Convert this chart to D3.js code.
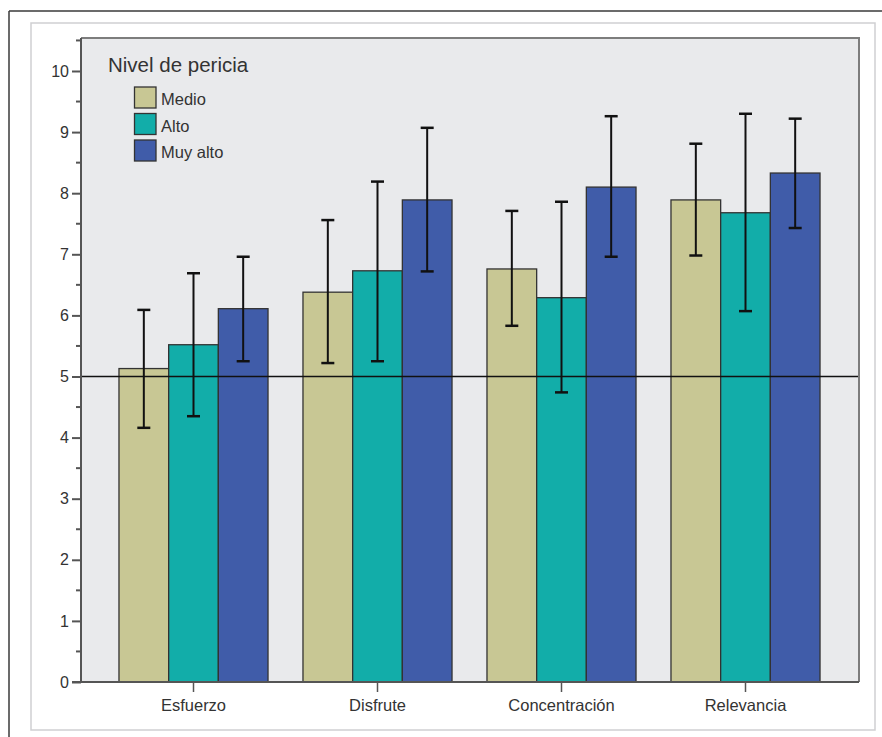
<!DOCTYPE html>
<html>
<head>
<meta charset="utf-8">
<script src="https://cdn.jsdelivr.net/npm/d3@7"></script>
<style>
  html, body { margin: 0; padding: 0; background: #fff; }
  svg { display: block; }
  text { font-family: "Liberation Sans", Arial, sans-serif; }
</style>
</head>
<body>
<svg id="chart" width="882" height="737"></svg>
<script>
// ---- data ----
const categories = ["Esfuerzo", "Disfrute", "Concentración", "Relevancia"];
const seriesNames = ["Medio", "Alto", "Muy alto"];
const medioMean = [5.13, 6.38, 6.76, 7.89];
const medioLow  = [4.16, 5.22, 5.83, 6.98];
const medioHigh = [6.09, 7.56, 7.71, 8.81];
const altoMean  = [5.52, 6.73, 6.29, 7.68];
const altoLow   = [4.35, 5.25, 4.74, 6.07];
const altoHigh  = [6.69, 8.19, 7.86, 9.30];
const muyMean   = [6.11, 7.89, 8.10, 8.33];
const muyLow    = [5.25, 6.72, 6.96, 7.43];
const muyHigh   = [6.96, 9.07, 9.26, 9.22];
const yTicks = [0, 1, 2, 3, 4, 5, 6, 7, 8, 9, 10];
const refValue = 5;
const legendTitle = "Nivel de pericia";

const colors = ["#c8c794", "#12ada9", "#405ca9"];

const means = [medioMean, altoMean, muyMean];
const lows = [medioLow, altoLow, muyLow];
const highs = [medioHigh, altoHigh, muyHigh];

const rows = [];
categories.forEach((c, ci) => {
  seriesNames.forEach((s, si) => {
    rows.push({cat: c, ser: s, si, mean: means[si][ci], low: lows[si][ci], high: highs[si][ci]});
  });
});

const svg = d3.select("#chart");

// outer frames
svg.append("line").attr("x1", 9).attr("x2", 882).attr("y1", 11).attr("y2", 11)
  .attr("stroke", "#3a3a3a").attr("stroke-width", 1.5);
svg.append("line").attr("x1", 9).attr("x2", 9).attr("y1", 11).attr("y2", 737)
  .attr("stroke", "#3a3a3a").attr("stroke-width", 1.5);
svg.append("rect").attr("x", 31).attr("y", 23).attr("width", 844).attr("height", 707)
  .attr("fill", "#fff").attr("stroke", "#cfcfd2").attr("stroke-width", 1.5);

// plot area
const L = 81, R = 859, T = 38, B = 682;
const y = d3.scaleLinear().domain([0, 10.54]).range([B, T]);
const x = d3.scaleBand().domain(categories).range([101.5, 837.5])
  .paddingInner(0.19).paddingOuter(0.095);
const xs = d3.scaleBand().domain(seriesNames).range([0, x.bandwidth()]);

svg.append("rect").attr("x", L).attr("y", T).attr("width", R - L).attr("height", B - T)
  .attr("fill", "#e9eaec");

// bars
const g = svg.append("g");
g.selectAll("rect.bar").data(rows).join("rect")
  .attr("class", "bar")
  .attr("x", d => x(d.cat) + xs(d.ser))
  .attr("width", xs.bandwidth())
  .attr("y", d => y(d.mean))
  .attr("height", d => y(0) - y(d.mean))
  .attr("fill", d => colors[d.si])
  .attr("stroke", "#333")
  .attr("stroke-width", 1.3);

// reference line
svg.append("line").attr("x1", L).attr("x2", R).attr("y1", y(refValue)).attr("y2", y(refValue))
  .attr("stroke", "#111").attr("stroke-width", 1.5);

// error bars
const cap = 6.5;
const eb = svg.append("g").attr("stroke", "#111").attr("stroke-width", 2);
rows.forEach(d => {
  const cx = x(d.cat) + xs(d.ser) + xs.bandwidth() / 2;
  eb.append("line").attr("x1", cx).attr("x2", cx).attr("y1", y(d.low)).attr("y2", y(d.high));
  eb.append("line").attr("x1", cx - cap).attr("x2", cx + cap).attr("y1", y(d.high)).attr("y2", y(d.high)).attr("stroke-width", 2.5);
  eb.append("line").attr("x1", cx - cap).attr("x2", cx + cap).attr("y1", y(d.low)).attr("y2", y(d.low)).attr("stroke-width", 2.5);
});

// frame top/right
svg.append("path").attr("d", `M${L},${T}H${R}V${B}`).attr("fill", "none")
  .attr("stroke", "#7d7d7d").attr("stroke-width", 2);

// y axis
const yAxis = d3.axisLeft(y).tickValues(yTicks).tickSize(9).tickPadding(3).tickFormat(d3.format("d"));
const ya = svg.append("g").attr("transform", `translate(${L},0)`).call(yAxis);
ya.select(".domain").attr("stroke", "#555").attr("stroke-width", 2).attr("d", `M0,${B}V${T}`);
ya.selectAll(".tick line").attr("stroke", "#555").attr("stroke-width", 2);
ya.selectAll(".tick text").attr("fill", "#333").style("font-size", "16px")
  .style("font-family", "'Liberation Sans', Arial, sans-serif");
// minor ticks
const minor = d3.range(0.5, 10.6, 1);
svg.append("g").selectAll("line").data(minor).join("line")
  .attr("x1", L - 5).attr("x2", L).attr("y1", d => y(d)).attr("y2", d => y(d))
  .attr("stroke", "#555").attr("stroke-width", 2);

// x axis
const xAxis = d3.axisBottom(x).tickSize(10).tickPadding(7).tickSizeOuter(0);
const xa = svg.append("g").attr("transform", `translate(0,${B})`).call(xAxis);
xa.select(".domain").attr("stroke", "#555").attr("stroke-width", 2).attr("d", `M${L - 9},0H${R}`);
xa.selectAll(".tick line").attr("stroke", "#555").attr("stroke-width", 1.5);
xa.selectAll(".tick text").attr("fill", "#333").style("font-size", "16.5px")
  .style("font-family", "'Liberation Sans', Arial, sans-serif");

// legend
const lg = svg.append("g");
lg.append("text").attr("x", 108).attr("y", 72).attr("fill", "#333")
  .style("font-size", "20.5px").text(legendTitle);
seriesNames.forEach((s, i) => {
  const yy = 87 + i * 26.5;
  lg.append("rect").attr("x", 134.5).attr("y", yy).attr("width", 21.5).attr("height", 21)
    .attr("fill", colors[i]).attr("stroke", "#333").attr("stroke-width", 1.3);
  lg.append("text").attr("x", 161).attr("y", yy + 18).attr("fill", "#333")
    .style("font-size", "16.5px").text(s);
});
</script>
</body>
</html>
